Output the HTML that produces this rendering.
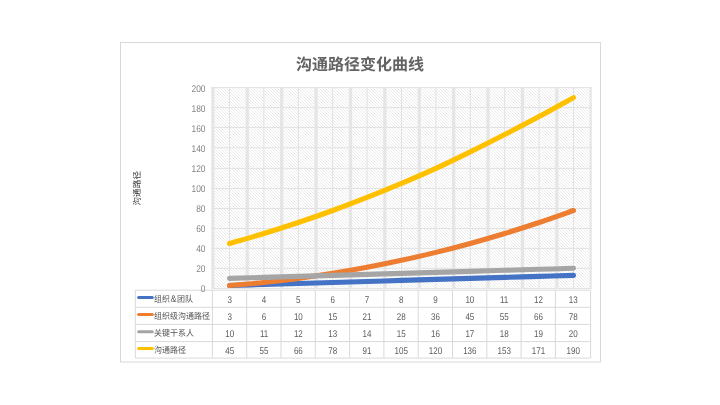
<!DOCTYPE html>
<html lang="zh-CN"><head><meta charset="utf-8"><title>沟通路径变化曲线</title>
<style>html,body{margin:0;padding:0;background:#fff;}body{width:720px;height:405px;overflow:hidden;position:relative;}svg{position:absolute;left:0;top:0;display:block;}text{font-family:"Liberation Sans", "Noto Sans CJK SC", sans-serif;text-rendering:geometricPrecision;}</style></head><body>
<svg width="720" height="405" viewBox="0 0 720 405">
<rect x="120.5" y="42.5" width="480" height="319.5" fill="#fff" stroke="#d9d9d9" stroke-width="1"/>
<clipPath id="pc"><rect x="211.20" y="87.40" width="380.50" height="201.30"/></clipPath>
<path clip-path="url(#pc)" d="M9.4 87.4l201.3 201.3M12.4 87.4l201.3 201.3M15.4 87.4l201.3 201.3M18.4 87.4l201.3 201.3M21.4 87.4l201.3 201.3M24.4 87.4l201.3 201.3M27.4 87.4l201.3 201.3M30.4 87.4l201.3 201.3M33.4 87.4l201.3 201.3M36.4 87.4l201.3 201.3M39.4 87.4l201.3 201.3M42.4 87.4l201.3 201.3M45.4 87.4l201.3 201.3M48.4 87.4l201.3 201.3M51.4 87.4l201.3 201.3M54.4 87.4l201.3 201.3M57.4 87.4l201.3 201.3M60.4 87.4l201.3 201.3M63.4 87.4l201.3 201.3M66.4 87.4l201.3 201.3M69.4 87.4l201.3 201.3M72.4 87.4l201.3 201.3M75.4 87.4l201.3 201.3M78.4 87.4l201.3 201.3M81.4 87.4l201.3 201.3M84.4 87.4l201.3 201.3M87.4 87.4l201.3 201.3M90.4 87.4l201.3 201.3M93.4 87.4l201.3 201.3M96.4 87.4l201.3 201.3M99.4 87.4l201.3 201.3M102.4 87.4l201.3 201.3M105.4 87.4l201.3 201.3M108.4 87.4l201.3 201.3M111.4 87.4l201.3 201.3M114.4 87.4l201.3 201.3M117.4 87.4l201.3 201.3M120.4 87.4l201.3 201.3M123.4 87.4l201.3 201.3M126.4 87.4l201.3 201.3M129.4 87.4l201.3 201.3M132.4 87.4l201.3 201.3M135.4 87.4l201.3 201.3M138.4 87.4l201.3 201.3M141.4 87.4l201.3 201.3M144.4 87.4l201.3 201.3M147.4 87.4l201.3 201.3M150.4 87.4l201.3 201.3M153.4 87.4l201.3 201.3M156.4 87.4l201.3 201.3M159.4 87.4l201.3 201.3M162.4 87.4l201.3 201.3M165.4 87.4l201.3 201.3M168.4 87.4l201.3 201.3M171.4 87.4l201.3 201.3M174.4 87.4l201.3 201.3M177.4 87.4l201.3 201.3M180.4 87.4l201.3 201.3M183.4 87.4l201.3 201.3M186.4 87.4l201.3 201.3M189.4 87.4l201.3 201.3M192.4 87.4l201.3 201.3M195.4 87.4l201.3 201.3M198.4 87.4l201.3 201.3M201.4 87.4l201.3 201.3M204.4 87.4l201.3 201.3M207.4 87.4l201.3 201.3M210.4 87.4l201.3 201.3M213.4 87.4l201.3 201.3M216.4 87.4l201.3 201.3M219.4 87.4l201.3 201.3M222.4 87.4l201.3 201.3M225.4 87.4l201.3 201.3M228.4 87.4l201.3 201.3M231.4 87.4l201.3 201.3M234.4 87.4l201.3 201.3M237.4 87.4l201.3 201.3M240.4 87.4l201.3 201.3M243.4 87.4l201.3 201.3M246.4 87.4l201.3 201.3M249.4 87.4l201.3 201.3M252.4 87.4l201.3 201.3M255.4 87.4l201.3 201.3M258.4 87.4l201.3 201.3M261.4 87.4l201.3 201.3M264.4 87.4l201.3 201.3M267.4 87.4l201.3 201.3M270.4 87.4l201.3 201.3M273.4 87.4l201.3 201.3M276.4 87.4l201.3 201.3M279.4 87.4l201.3 201.3M282.4 87.4l201.3 201.3M285.4 87.4l201.3 201.3M288.4 87.4l201.3 201.3M291.4 87.4l201.3 201.3M294.4 87.4l201.3 201.3M297.4 87.4l201.3 201.3M300.4 87.4l201.3 201.3M303.4 87.4l201.3 201.3M306.4 87.4l201.3 201.3M309.4 87.4l201.3 201.3M312.4 87.4l201.3 201.3M315.4 87.4l201.3 201.3M318.4 87.4l201.3 201.3M321.4 87.4l201.3 201.3M324.4 87.4l201.3 201.3M327.4 87.4l201.3 201.3M330.4 87.4l201.3 201.3M333.4 87.4l201.3 201.3M336.4 87.4l201.3 201.3M339.4 87.4l201.3 201.3M342.4 87.4l201.3 201.3M345.4 87.4l201.3 201.3M348.4 87.4l201.3 201.3M351.4 87.4l201.3 201.3M354.4 87.4l201.3 201.3M357.4 87.4l201.3 201.3M360.4 87.4l201.3 201.3M363.4 87.4l201.3 201.3M366.4 87.4l201.3 201.3M369.4 87.4l201.3 201.3M372.4 87.4l201.3 201.3M375.4 87.4l201.3 201.3M378.4 87.4l201.3 201.3M381.4 87.4l201.3 201.3M384.4 87.4l201.3 201.3M387.4 87.4l201.3 201.3M390.4 87.4l201.3 201.3M393.4 87.4l201.3 201.3M396.4 87.4l201.3 201.3M399.4 87.4l201.3 201.3M402.4 87.4l201.3 201.3M405.4 87.4l201.3 201.3M408.4 87.4l201.3 201.3M411.4 87.4l201.3 201.3M414.4 87.4l201.3 201.3M417.4 87.4l201.3 201.3M420.4 87.4l201.3 201.3M423.4 87.4l201.3 201.3M426.4 87.4l201.3 201.3M429.4 87.4l201.3 201.3M432.4 87.4l201.3 201.3M435.4 87.4l201.3 201.3M438.4 87.4l201.3 201.3M441.4 87.4l201.3 201.3M444.4 87.4l201.3 201.3M447.4 87.4l201.3 201.3M450.4 87.4l201.3 201.3M453.4 87.4l201.3 201.3M456.4 87.4l201.3 201.3M459.4 87.4l201.3 201.3M462.4 87.4l201.3 201.3M465.4 87.4l201.3 201.3M468.4 87.4l201.3 201.3M471.4 87.4l201.3 201.3M474.4 87.4l201.3 201.3M477.4 87.4l201.3 201.3M480.4 87.4l201.3 201.3M483.4 87.4l201.3 201.3M486.4 87.4l201.3 201.3M489.4 87.4l201.3 201.3M492.4 87.4l201.3 201.3M495.4 87.4l201.3 201.3M498.4 87.4l201.3 201.3M501.4 87.4l201.3 201.3M504.4 87.4l201.3 201.3M507.4 87.4l201.3 201.3M510.4 87.4l201.3 201.3M513.4 87.4l201.3 201.3M516.4 87.4l201.3 201.3M519.4 87.4l201.3 201.3M522.4 87.4l201.3 201.3M525.4 87.4l201.3 201.3M528.4 87.4l201.3 201.3M531.4 87.4l201.3 201.3M534.4 87.4l201.3 201.3M537.4 87.4l201.3 201.3M540.4 87.4l201.3 201.3M543.4 87.4l201.3 201.3M546.4 87.4l201.3 201.3M549.4 87.4l201.3 201.3M552.4 87.4l201.3 201.3M555.4 87.4l201.3 201.3M558.4 87.4l201.3 201.3M561.4 87.4l201.3 201.3M564.4 87.4l201.3 201.3M567.4 87.4l201.3 201.3M570.4 87.4l201.3 201.3M573.4 87.4l201.3 201.3M576.4 87.4l201.3 201.3M579.4 87.4l201.3 201.3M582.4 87.4l201.3 201.3M585.4 87.4l201.3 201.3M588.4 87.4l201.3 201.3M591.4 87.4l201.3 201.3" fill="none" stroke="#dddddd" stroke-width="0.60"/>
<line x1="211.20" y1="288.50" x2="591.70" y2="288.50" stroke="#e2e2e2" stroke-width="1"/>
<line x1="211.20" y1="268.30" x2="591.70" y2="268.30" stroke="#e2e2e2" stroke-width="1"/>
<line x1="211.20" y1="248.40" x2="591.70" y2="248.40" stroke="#e2e2e2" stroke-width="1"/>
<line x1="211.20" y1="228.50" x2="591.70" y2="228.50" stroke="#e2e2e2" stroke-width="1"/>
<line x1="211.20" y1="208.50" x2="591.70" y2="208.50" stroke="#e2e2e2" stroke-width="1"/>
<line x1="211.20" y1="188.45" x2="591.70" y2="188.45" stroke="#e2e2e2" stroke-width="1"/>
<line x1="211.20" y1="168.40" x2="591.70" y2="168.40" stroke="#e2e2e2" stroke-width="1"/>
<line x1="211.20" y1="147.75" x2="591.70" y2="147.75" stroke="#e2e2e2" stroke-width="1"/>
<line x1="211.20" y1="127.45" x2="591.70" y2="127.45" stroke="#e2e2e2" stroke-width="1"/>
<line x1="211.20" y1="107.65" x2="591.70" y2="107.65" stroke="#e2e2e2" stroke-width="1"/>
<line x1="211.20" y1="87.60" x2="591.70" y2="87.60" stroke="#e2e2e2" stroke-width="1"/>
<line x1="229.50" y1="87.60" x2="229.50" y2="288.70" stroke="#e2e2e2" stroke-width="1"/>
<line x1="263.90" y1="87.60" x2="263.90" y2="288.70" stroke="#e2e2e2" stroke-width="1"/>
<line x1="298.30" y1="87.60" x2="298.30" y2="288.70" stroke="#e2e2e2" stroke-width="1"/>
<line x1="332.70" y1="87.60" x2="332.70" y2="288.70" stroke="#e2e2e2" stroke-width="1"/>
<line x1="367.10" y1="87.60" x2="367.10" y2="288.70" stroke="#e2e2e2" stroke-width="1"/>
<line x1="401.50" y1="87.60" x2="401.50" y2="288.70" stroke="#e2e2e2" stroke-width="1"/>
<line x1="435.90" y1="87.60" x2="435.90" y2="288.70" stroke="#e2e2e2" stroke-width="1"/>
<line x1="470.30" y1="87.60" x2="470.30" y2="288.70" stroke="#e2e2e2" stroke-width="1"/>
<line x1="504.70" y1="87.60" x2="504.70" y2="288.70" stroke="#e2e2e2" stroke-width="1"/>
<line x1="539.10" y1="87.60" x2="539.10" y2="288.70" stroke="#e2e2e2" stroke-width="1"/>
<line x1="573.50" y1="87.60" x2="573.50" y2="288.70" stroke="#e2e2e2" stroke-width="1"/>
<line x1="212.85" y1="87.40" x2="212.85" y2="288.70" stroke="#e3e3e3" stroke-opacity="0.9" stroke-width="3.3" clip-path="url(#pc)"/>
<line x1="247.25" y1="87.40" x2="247.25" y2="288.70" stroke="#e3e3e3" stroke-opacity="0.9" stroke-width="3.3" clip-path="url(#pc)"/>
<line x1="281.65" y1="87.40" x2="281.65" y2="288.70" stroke="#e3e3e3" stroke-opacity="0.9" stroke-width="3.3" clip-path="url(#pc)"/>
<line x1="316.05" y1="87.40" x2="316.05" y2="288.70" stroke="#e3e3e3" stroke-opacity="0.9" stroke-width="3.3" clip-path="url(#pc)"/>
<line x1="350.45" y1="87.40" x2="350.45" y2="288.70" stroke="#e3e3e3" stroke-opacity="0.9" stroke-width="3.3" clip-path="url(#pc)"/>
<line x1="384.85" y1="87.40" x2="384.85" y2="288.70" stroke="#e3e3e3" stroke-opacity="0.9" stroke-width="3.3" clip-path="url(#pc)"/>
<line x1="419.25" y1="87.40" x2="419.25" y2="288.70" stroke="#e3e3e3" stroke-opacity="0.9" stroke-width="3.3" clip-path="url(#pc)"/>
<line x1="453.65" y1="87.40" x2="453.65" y2="288.70" stroke="#e3e3e3" stroke-opacity="0.9" stroke-width="3.3" clip-path="url(#pc)"/>
<line x1="488.05" y1="87.40" x2="488.05" y2="288.70" stroke="#e3e3e3" stroke-opacity="0.9" stroke-width="3.3" clip-path="url(#pc)"/>
<line x1="522.45" y1="87.40" x2="522.45" y2="288.70" stroke="#e3e3e3" stroke-opacity="0.9" stroke-width="3.3" clip-path="url(#pc)"/>
<line x1="556.85" y1="87.40" x2="556.85" y2="288.70" stroke="#e3e3e3" stroke-opacity="0.9" stroke-width="3.3" clip-path="url(#pc)"/>
<line x1="591.25" y1="87.40" x2="591.25" y2="288.70" stroke="#e3e3e3" stroke-opacity="0.9" stroke-width="3.3" clip-path="url(#pc)"/>
<path d="M229.50 285.47 C235.23 285.30 252.43 284.80 263.90 284.46 C275.37 284.12 286.83 283.79 298.30 283.45 C309.77 283.11 321.23 282.78 332.70 282.44 C344.17 282.10 355.63 281.77 367.10 281.43 C378.57 281.09 390.03 280.76 401.50 280.42 C412.97 280.08 424.43 279.75 435.90 279.41 C447.37 279.07 458.83 278.74 470.30 278.40 C481.77 278.06 493.23 277.73 504.70 277.39 C516.17 277.05 527.63 276.72 539.10 276.38 C550.57 276.04 567.77 275.54 573.50 275.37" fill="none" stroke="#4472C4" stroke-width="5.1" stroke-linecap="round" stroke-linejoin="round"/>
<path d="M229.50 285.47 C235.23 284.97 252.43 283.62 263.90 282.44 C275.37 281.26 286.83 279.91 298.30 278.40 C309.77 276.88 321.23 275.20 332.70 273.35 C344.17 271.50 355.63 269.47 367.10 267.31 C378.57 265.14 390.03 262.83 401.50 260.34 C412.97 257.85 424.43 255.20 435.90 252.38 C447.37 249.56 458.83 246.58 470.30 243.43 C481.77 240.27 493.23 236.96 504.70 233.47 C516.17 229.99 527.63 226.33 539.10 222.50 C550.57 218.67 567.77 212.50 573.50 210.50" fill="none" stroke="#ED7D31" stroke-width="5.1" stroke-linecap="round" stroke-linejoin="round"/>
<path d="M229.50 278.40 C235.23 278.23 252.43 277.73 263.90 277.39 C275.37 277.05 286.83 276.72 298.30 276.38 C309.77 276.04 321.23 275.71 332.70 275.37 C344.17 275.03 355.63 274.70 367.10 274.36 C378.57 274.02 390.03 273.69 401.50 273.35 C412.97 273.01 424.43 272.68 435.90 272.34 C447.37 272.00 458.83 271.67 470.30 271.33 C481.77 270.99 493.23 270.66 504.70 270.32 C516.17 269.98 527.63 269.65 539.10 269.31 C550.57 268.97 567.77 268.47 573.50 268.30" fill="none" stroke="#A5A5A5" stroke-width="5.1" stroke-linecap="round" stroke-linejoin="round"/>
<path d="M229.50 243.43 C235.23 241.77 252.43 236.96 263.90 233.47 C275.37 229.99 286.83 226.33 298.30 222.50 C309.77 218.67 321.23 214.67 332.70 210.50 C344.17 206.33 355.63 201.98 367.10 197.47 C378.57 192.96 390.03 188.28 401.50 183.44 C412.97 178.59 424.43 173.66 435.90 168.40 C447.37 163.14 458.83 157.52 470.30 151.88 C481.77 146.24 493.23 140.44 504.70 134.56 C516.17 128.67 527.63 122.72 539.10 116.56 C550.57 110.41 567.77 100.78 573.50 97.62" fill="none" stroke="#FFC000" stroke-width="5.1" stroke-linecap="round" stroke-linejoin="round"/>
<line x1="135.30" y1="290.20" x2="590.60" y2="290.20" stroke="#d9d9d9" stroke-width="1"/>
<line x1="135.30" y1="307.30" x2="590.60" y2="307.30" stroke="#d9d9d9" stroke-width="1"/>
<line x1="135.30" y1="324.40" x2="590.60" y2="324.40" stroke="#d9d9d9" stroke-width="1"/>
<line x1="135.30" y1="341.60" x2="590.60" y2="341.60" stroke="#d9d9d9" stroke-width="1"/>
<line x1="135.30" y1="358.10" x2="590.60" y2="358.10" stroke="#d9d9d9" stroke-width="1"/>
<line x1="135.30" y1="290.20" x2="135.30" y2="358.10" stroke="#d9d9d9" stroke-width="1"/>
<line x1="212.40" y1="290.20" x2="212.40" y2="358.10" stroke="#d9d9d9" stroke-width="1"/>
<line x1="246.70" y1="290.20" x2="246.70" y2="358.10" stroke="#d9d9d9" stroke-width="1"/>
<line x1="281.00" y1="290.20" x2="281.00" y2="358.10" stroke="#d9d9d9" stroke-width="1"/>
<line x1="315.30" y1="290.20" x2="315.30" y2="358.10" stroke="#d9d9d9" stroke-width="1"/>
<line x1="349.60" y1="290.20" x2="349.60" y2="358.10" stroke="#d9d9d9" stroke-width="1"/>
<line x1="383.90" y1="290.20" x2="383.90" y2="358.10" stroke="#d9d9d9" stroke-width="1"/>
<line x1="418.20" y1="290.20" x2="418.20" y2="358.10" stroke="#d9d9d9" stroke-width="1"/>
<line x1="452.50" y1="290.20" x2="452.50" y2="358.10" stroke="#d9d9d9" stroke-width="1"/>
<line x1="486.80" y1="290.20" x2="486.80" y2="358.10" stroke="#d9d9d9" stroke-width="1"/>
<line x1="521.10" y1="290.20" x2="521.10" y2="358.10" stroke="#d9d9d9" stroke-width="1"/>
<line x1="555.40" y1="290.20" x2="555.40" y2="358.10" stroke="#d9d9d9" stroke-width="1"/>
<line x1="590.60" y1="290.20" x2="590.60" y2="358.10" stroke="#d9d9d9" stroke-width="1"/>
<line x1="138.6" y1="297.45" x2="152.3" y2="297.45" stroke="#4472C4" stroke-width="3" stroke-linecap="round"/>
<text transform="translate(154.1 302.15) scale(1 1.07)" font-size="8" fill="#555555">组织<tspan font-size="9" dx="0.3">&amp;</tspan><tspan dx="0.6">团队</tspan></text>
<text transform="translate(229.75 302.75) scale(0.82 1)" font-size="9.8" fill="#5c5c5c" text-anchor="middle">3</text>
<text transform="translate(264.05 302.75) scale(0.82 1)" font-size="9.8" fill="#5c5c5c" text-anchor="middle">4</text>
<text transform="translate(298.35 302.75) scale(0.82 1)" font-size="9.8" fill="#5c5c5c" text-anchor="middle">5</text>
<text transform="translate(332.65 302.75) scale(0.82 1)" font-size="9.8" fill="#5c5c5c" text-anchor="middle">6</text>
<text transform="translate(366.95 302.75) scale(0.82 1)" font-size="9.8" fill="#5c5c5c" text-anchor="middle">7</text>
<text transform="translate(401.25 302.75) scale(0.82 1)" font-size="9.8" fill="#5c5c5c" text-anchor="middle">8</text>
<text transform="translate(435.55 302.75) scale(0.82 1)" font-size="9.8" fill="#5c5c5c" text-anchor="middle">9</text>
<text transform="translate(469.85 302.75) scale(0.82 1)" font-size="9.8" fill="#5c5c5c" text-anchor="middle">10</text>
<text transform="translate(504.15 302.75) scale(0.82 1)" font-size="9.8" fill="#5c5c5c" text-anchor="middle">11</text>
<text transform="translate(538.45 302.75) scale(0.82 1)" font-size="9.8" fill="#5c5c5c" text-anchor="middle">12</text>
<text transform="translate(573.20 302.75) scale(0.82 1)" font-size="9.8" fill="#5c5c5c" text-anchor="middle">13</text>
<line x1="138.6" y1="314.55" x2="152.3" y2="314.55" stroke="#ED7D31" stroke-width="3" stroke-linecap="round"/>
<text transform="translate(154.1 319.25) scale(1 1.07)" font-size="8" fill="#555555">组织级沟通路径</text>
<text transform="translate(229.75 319.85) scale(0.82 1)" font-size="9.8" fill="#5c5c5c" text-anchor="middle">3</text>
<text transform="translate(264.05 319.85) scale(0.82 1)" font-size="9.8" fill="#5c5c5c" text-anchor="middle">6</text>
<text transform="translate(298.35 319.85) scale(0.82 1)" font-size="9.8" fill="#5c5c5c" text-anchor="middle">10</text>
<text transform="translate(332.65 319.85) scale(0.82 1)" font-size="9.8" fill="#5c5c5c" text-anchor="middle">15</text>
<text transform="translate(366.95 319.85) scale(0.82 1)" font-size="9.8" fill="#5c5c5c" text-anchor="middle">21</text>
<text transform="translate(401.25 319.85) scale(0.82 1)" font-size="9.8" fill="#5c5c5c" text-anchor="middle">28</text>
<text transform="translate(435.55 319.85) scale(0.82 1)" font-size="9.8" fill="#5c5c5c" text-anchor="middle">36</text>
<text transform="translate(469.85 319.85) scale(0.82 1)" font-size="9.8" fill="#5c5c5c" text-anchor="middle">45</text>
<text transform="translate(504.15 319.85) scale(0.82 1)" font-size="9.8" fill="#5c5c5c" text-anchor="middle">55</text>
<text transform="translate(538.45 319.85) scale(0.82 1)" font-size="9.8" fill="#5c5c5c" text-anchor="middle">66</text>
<text transform="translate(573.20 319.85) scale(0.82 1)" font-size="9.8" fill="#5c5c5c" text-anchor="middle">78</text>
<line x1="138.6" y1="331.70" x2="152.3" y2="331.70" stroke="#A5A5A5" stroke-width="3" stroke-linecap="round"/>
<text transform="translate(154.1 336.40) scale(1 1.07)" font-size="8" fill="#555555">关键干系人</text>
<text transform="translate(229.75 337.00) scale(0.82 1)" font-size="9.8" fill="#5c5c5c" text-anchor="middle">10</text>
<text transform="translate(264.05 337.00) scale(0.82 1)" font-size="9.8" fill="#5c5c5c" text-anchor="middle">11</text>
<text transform="translate(298.35 337.00) scale(0.82 1)" font-size="9.8" fill="#5c5c5c" text-anchor="middle">12</text>
<text transform="translate(332.65 337.00) scale(0.82 1)" font-size="9.8" fill="#5c5c5c" text-anchor="middle">13</text>
<text transform="translate(366.95 337.00) scale(0.82 1)" font-size="9.8" fill="#5c5c5c" text-anchor="middle">14</text>
<text transform="translate(401.25 337.00) scale(0.82 1)" font-size="9.8" fill="#5c5c5c" text-anchor="middle">15</text>
<text transform="translate(435.55 337.00) scale(0.82 1)" font-size="9.8" fill="#5c5c5c" text-anchor="middle">16</text>
<text transform="translate(469.85 337.00) scale(0.82 1)" font-size="9.8" fill="#5c5c5c" text-anchor="middle">17</text>
<text transform="translate(504.15 337.00) scale(0.82 1)" font-size="9.8" fill="#5c5c5c" text-anchor="middle">18</text>
<text transform="translate(538.45 337.00) scale(0.82 1)" font-size="9.8" fill="#5c5c5c" text-anchor="middle">19</text>
<text transform="translate(573.20 337.00) scale(0.82 1)" font-size="9.8" fill="#5c5c5c" text-anchor="middle">20</text>
<line x1="138.6" y1="348.55" x2="152.3" y2="348.55" stroke="#FFC000" stroke-width="3" stroke-linecap="round"/>
<text transform="translate(154.1 353.25) scale(1 1.07)" font-size="8" fill="#555555">沟通路径</text>
<text transform="translate(229.75 353.85) scale(0.82 1)" font-size="9.8" fill="#5c5c5c" text-anchor="middle">45</text>
<text transform="translate(264.05 353.85) scale(0.82 1)" font-size="9.8" fill="#5c5c5c" text-anchor="middle">55</text>
<text transform="translate(298.35 353.85) scale(0.82 1)" font-size="9.8" fill="#5c5c5c" text-anchor="middle">66</text>
<text transform="translate(332.65 353.85) scale(0.82 1)" font-size="9.8" fill="#5c5c5c" text-anchor="middle">78</text>
<text transform="translate(366.95 353.85) scale(0.82 1)" font-size="9.8" fill="#5c5c5c" text-anchor="middle">91</text>
<text transform="translate(401.25 353.85) scale(0.82 1)" font-size="9.8" fill="#5c5c5c" text-anchor="middle">105</text>
<text transform="translate(435.55 353.85) scale(0.82 1)" font-size="9.8" fill="#5c5c5c" text-anchor="middle">120</text>
<text transform="translate(469.85 353.85) scale(0.82 1)" font-size="9.8" fill="#5c5c5c" text-anchor="middle">136</text>
<text transform="translate(504.15 353.85) scale(0.82 1)" font-size="9.8" fill="#5c5c5c" text-anchor="middle">153</text>
<text transform="translate(538.45 353.85) scale(0.82 1)" font-size="9.8" fill="#5c5c5c" text-anchor="middle">171</text>
<text transform="translate(573.20 353.85) scale(0.82 1)" font-size="9.8" fill="#5c5c5c" text-anchor="middle">190</text>
<text transform="translate(205.5 291.80) scale(0.855 1)" font-size="9.8" fill="#848484" text-anchor="end">0</text>
<text transform="translate(205.5 271.82) scale(0.855 1)" font-size="9.8" fill="#848484" text-anchor="end">20</text>
<text transform="translate(205.5 251.84) scale(0.855 1)" font-size="9.8" fill="#848484" text-anchor="end">40</text>
<text transform="translate(205.5 231.86) scale(0.855 1)" font-size="9.8" fill="#848484" text-anchor="end">60</text>
<text transform="translate(205.5 211.88) scale(0.855 1)" font-size="9.8" fill="#848484" text-anchor="end">80</text>
<text transform="translate(205.5 191.90) scale(0.855 1)" font-size="9.8" fill="#848484" text-anchor="end">100</text>
<text transform="translate(205.5 171.92) scale(0.855 1)" font-size="9.8" fill="#848484" text-anchor="end">120</text>
<text transform="translate(205.5 151.94) scale(0.855 1)" font-size="9.8" fill="#848484" text-anchor="end">140</text>
<text transform="translate(205.5 131.96) scale(0.855 1)" font-size="9.8" fill="#848484" text-anchor="end">160</text>
<text transform="translate(205.5 111.98) scale(0.855 1)" font-size="9.8" fill="#848484" text-anchor="end">180</text>
<text transform="translate(205.5 92.00) scale(0.855 1)" font-size="9.8" fill="#848484" text-anchor="end">200</text>
<text transform="translate(139.6 188.2) rotate(-90)" font-size="8.6" letter-spacing="0.1" fill="#383838" text-anchor="middle">沟通路径</text>
<text x="360" y="70.3" font-size="16" font-weight="bold" fill="#636363" text-anchor="middle">沟通路径变化曲线</text>
</svg></body></html>
